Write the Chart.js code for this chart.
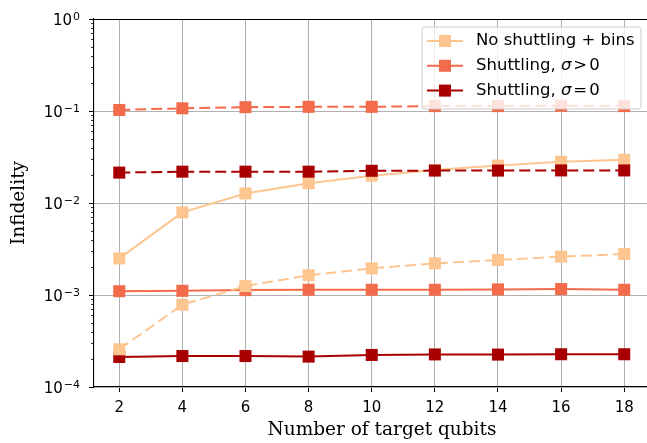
<!DOCTYPE html>
<html>
<head>
<meta charset="utf-8">
<script src="https://cdn.jsdelivr.net/npm/chart.js@4.4.1/dist/chart.umd.min.js"></script>
<style>
  html, body { margin: 0; padding: 0; background: #fff; overflow: hidden; }
  #wrap { position: relative; width: 680px; height: 443px; }
</style>
</head>
<body>
<div id="wrap"><canvas id="c"></canvas></div>
<script>
// ---------- data ----------
const qubits = [2, 4, 6, 8, 10, 12, 14, 16, 18];
const xTicks = [2, 4, 6, 8, 10, 12, 14, 16, 18];
const yDecades = [1e-4, 1e-3, 1e-2, 1e-1, 1];
const yTickBase = '10';
const yTickExp = ['\u22124', '\u22123', '\u22122', '\u22121', '0'];

const noShuttleSolid   = [0.00250, 0.00792, 0.0127, 0.0164, 0.0198, 0.0228, 0.0255, 0.0281, 0.0295];
const noShuttleDashed  = [0.000257, 0.000785, 0.00125, 0.00164, 0.00195, 0.00221, 0.00240, 0.00261, 0.00279];
const sigmaPosSolid    = [0.00110, 0.00111, 0.00113, 0.00114, 0.00114, 0.00114, 0.00115, 0.00116, 0.00114];
const sigmaPosDashed   = [0.1026, 0.107, 0.110, 0.111, 0.111, 0.113, 0.113, 0.114, 0.113];
const sigmaZeroSolid   = [0.000212, 0.000217, 0.000217, 0.000214, 0.000223, 0.000226, 0.000225, 0.000227, 0.000227];
const sigmaZeroDashed  = [0.0214, 0.0219, 0.0219, 0.0219, 0.0224, 0.0225, 0.0225, 0.0226, 0.0226];

const legendLabels = ['No shuttling + bins', 'Shuttling, ', 'Shuttling, '];
const legendMath = [null, '>', '='];

const cLight = '#fdc58f';
const cMid = '#f26c4b';
const cDark = '#a80000';

function pts(arr) { return arr.map((v, i) => ({ x: qubits[i], y: v })); }
function ds(arr, color, dashed, order) {
  return {
    data: pts(arr),
    borderColor: color,
    backgroundColor: color,
    pointBackgroundColor: color,
    pointBorderColor: color,
    borderWidth: 2,
    borderDash: dashed ? [11, 5] : [],
    pointStyle: 'rect',
    pointRadius: 8.5,
    pointBorderWidth: 0,
    pointHoverRadius: 8.5,
    tension: 0,
    order: order
  };
}

const datasets = [
  ds(sigmaZeroDashed, cDark, true, 0),
  ds(sigmaPosDashed, cMid, true, 1),
  ds(noShuttleDashed, cLight, true, 2),
  ds(sigmaZeroSolid, cDark, false, 3),
  ds(sigmaPosSolid, cMid, false, 4),
  ds(noShuttleSolid, cLight, false, 5)
];

const tickFont = { family: 'DejaVu Sans', size: 15 };
const legendFontSize = 16.5;

const extras = {
  id: 'extras',
  afterDatasetsDraw(chart) {
    const ctx = chart.ctx;
    const a = chart.chartArea;
    const ys = chart.scales.y;
    ctx.save();
    // top spine
    ctx.strokeStyle = '#000';
    ctx.lineWidth = 1.1;
    ctx.beginPath();
    ctx.moveTo(a.left, a.top + 0.5);
    ctx.lineTo(a.right, a.top + 0.5);
    ctx.stroke();
    // minor ticks on y
    ctx.lineWidth = 0.8;
    for (let d = 0; d < yDecades.length - 1; d++) {
      for (let m = 2; m <= 9; m++) {
        const py = Math.round(ys.getPixelForValue(yDecades[d] * m)) + 0.5;
        ctx.beginPath();
        ctx.moveTo(a.left - 3, py);
        ctx.lineTo(a.left, py);
        ctx.stroke();
      }
    }
    // y tick labels with superscript exponents
    ctx.fillStyle = '#000';
    ctx.textAlign = 'right';
    ctx.textBaseline = 'alphabetic';
    const labelRight = a.left - 14;
    yDecades.forEach((v, i) => {
      const py = ys.getPixelForValue(v);
      ctx.font = '11px "DejaVu Sans"';
      const ew = ctx.measureText(yTickExp[i]).width;
      ctx.fillText(yTickExp[i], labelRight, py + 0.5);
      ctx.font = '15px "DejaVu Sans"';
      ctx.fillText(yTickBase, labelRight - ew - 1, py + 6);
    });
    // legend
    const bx = 422, by = 27, bw = 219, bh = 82, r = 3;
    ctx.fillStyle = 'rgba(255,255,255,0.8)';
    ctx.strokeStyle = '#cccccc';
    ctx.lineWidth = 1;
    ctx.beginPath();
    ctx.moveTo(bx + r, by);
    ctx.lineTo(bx + bw - r, by);
    ctx.quadraticCurveTo(bx + bw, by, bx + bw, by + r);
    ctx.lineTo(bx + bw, by + bh - r);
    ctx.quadraticCurveTo(bx + bw, by + bh, bx + bw - r, by + bh);
    ctx.lineTo(bx + r, by + bh);
    ctx.quadraticCurveTo(bx, by + bh, bx, by + bh - r);
    ctx.lineTo(bx, by + r);
    ctx.quadraticCurveTo(bx, by, bx + r, by);
    ctx.closePath();
    ctx.fill();
    ctx.stroke();
    const colors = [cLight, cMid, cDark];
    const rows = [41, 65.8, 90.6];
    const fs = legendFontSize;
    for (let i = 0; i < 3; i++) {
      const yy = rows[i];
      ctx.strokeStyle = colors[i];
      ctx.lineWidth = 2;
      ctx.beginPath();
      ctx.moveTo(427, yy);
      ctx.lineTo(463, yy);
      ctx.stroke();
      ctx.fillStyle = colors[i];
      ctx.fillRect(439, yy - 6, 12, 12);
      ctx.fillStyle = '#000';
      ctx.textBaseline = 'middle';
      ctx.textAlign = 'left';
      ctx.font = fs + 'px "DejaVu Sans"';
      let x = 476;
      ctx.fillText(legendLabels[i], x, yy);
      if (legendMath[i]) {
        x += ctx.measureText(legendLabels[i]).width;
        ctx.font = 'italic ' + fs + 'px "DejaVu Sans"';
        ctx.fillText('\u03C3', x, yy);
        x += ctx.measureText('\u03C3').width + 2;
        ctx.font = fs + 'px "DejaVu Sans"';
        ctx.fillText(legendMath[i], x, yy);
        x += ctx.measureText(legendMath[i]).width + 2;
        ctx.fillText('0', x, yy);
      }
    }
    ctx.restore();
  }
};

new Chart(document.getElementById('c'), {
  type: 'line',
  data: { datasets },
  plugins: [extras],
  options: {
    responsive: true,
    maintainAspectRatio: false,
    animation: false,
    layout: { padding: { left: 0, right: 10, top: 19, bottom: 0 } },
    plugins: { legend: { display: false }, tooltip: { enabled: false } },
    scales: {
      x: {
        type: 'linear',
        min: 1.2,
        max: 19.45,
        afterBuildTicks(scale) { scale.ticks = xTicks.map(v => ({ value: v })); },
        afterFit(scale) { scale.height = 56; },
        ticks: { font: tickFont, color: '#000', padding: 7, maxRotation: 0, autoSkip: false,
                 callback: v => String(v) },
        grid: { color: '#b0b0b0', lineWidth: 1, tickLength: 5, tickColor: '#000', drawOnChartArea: true },
        border: { color: '#000', width: 1.1 },
        title: { display: true, text: 'Number of target qubits', color: '#000',
                 font: { family: 'DejaVu Serif', size: 18.5 }, padding: { top: 0, bottom: 2 } }
      },
      y: {
        type: 'logarithmic',
        min: 1e-4,
        max: 1,
        afterBuildTicks(scale) { scale.ticks = yDecades.map(v => ({ value: v })); },
        afterFit(scale) { scale.width = 94; },
        ticks: { display: false },
        grid: { color: '#b0b0b0', lineWidth: 1, tickLength: 5, tickColor: '#000' },
        border: { color: '#000', width: 1.1 },
        title: { display: true, text: 'Infidelity', color: '#000',
                 font: { family: 'DejaVu Serif', size: 18.5 }, padding: { top: 8, bottom: 0 } }
      }
    }
  }
});
</script>
</body>
</html>
